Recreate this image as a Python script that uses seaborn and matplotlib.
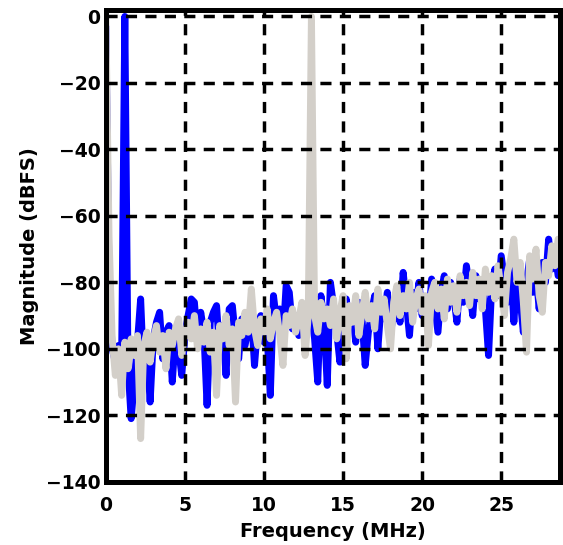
import numpy as np
import pandas as pd
import matplotlib
matplotlib.use("Agg")
import matplotlib.pyplot as plt
import seaborn as sns

# frequency grid (MHz) and the two spectra (dBFS)
freq_step = 0.2
n_bins = 144
freq = [round(i * freq_step, 1) for i in range(n_bins)]

blue_db = [
    -3, -80, -100, -104, -99, -102, 0, -105, -121, -110,
    -98, -85, -108, -100, -116, -97, -92, -89, -103, -95,
    -93, -110, -96, -100, -108, -96, -90, -85, -86, -98,
    -89, -95, -117, -92, -89, -87, -101, -93, -108, -88,
    -87, -97, -103, -91, -99, -94, -89, -105, -93, -90,
    -98, -96, -114, -84, -92, -88, -97, -81, -83, -94,
    -90, -96, -88, -92, -86, -89, -97, -110, -84, -92,
    -111, -80, -87, -95, -104, -90, -85, -93, -88, -98,
    -86, -91, -105, -95, -89, -84, -100, -87, -91, -83,
    -96, -88, -84, -92, -77, -86, -96, -83, -88, -80,
    -90, -85, -92, -79, -87, -95, -83, -78, -88, -80,
    -84, -92, -79, -86, -75, -82, -90, -78, -85, -80,
    -88, -102, -81, -76, -84, -72, -79, -86, -74, -92,
    -78, -85, -95, -80, -73, -83, -77, -88, -74, -80,
    -67, -76, -71, -78,
]

gray_db = [
    0, -66, -97, -108, -100, -114, -98, -106, -97, -102,
    -96, -127, -99, -95, -104, -97, -93, -101, -96, -106,
    -95, -99, -94, -91, -102, -95, -92, -97, -90, -100,
    -94, -98, -92, -101, -95, -114, -93, -97, -90, -99,
    -94, -116, -92, -96, -89, -95, -82, -94, -99, -91,
    -95, -88, -97, -92, -89, -96, -105, -90, -93, -88,
    -95, -91, -86, -102, -90, 0, -90, -95, -86, -91,
    -88, -93, -85, -97, -89, -84, -103, -87, -92, -84,
    -96, -89, -83, -91, -87, -94, -82, -89, -85, -93,
    -100, -86, -81, -90, -84, -88, -80, -92, -85, -82,
    -89, -84, -99, -83, -80, -88, -82, -91, -79, -86,
    -81, -89, -78, -84, -80, -87, -77, -84, -79, -88,
    -76, -83, -78, -85, -75, -82, -90, -77, -73, -67,
    -80, -74, -86, -101, -72, -79, -70, -84, -89, -74,
    -78, -69, -75, -67,
]

df = pd.DataFrame({"freq": freq, "blue": blue_db, "gray": gray_db})

sns.set_style("white")
plt.rcParams["font.family"] = ["DejaVu Sans"]
plt.rcParams["font.weight"] = "bold"
plt.rcParams["text.color"] = "black"
plt.rcParams["axes.labelcolor"] = "black"

fig = plt.figure(figsize=(5.63, 5.45), dpi=100)
ax = fig.add_axes([0.188, 0.116, 0.807, 0.866])

line_kw = dict(linewidth=5, solid_joinstyle="round", solid_capstyle="round",
               estimator=None, legend=False)
sns.lineplot(data=df, x="freq", y="blue", color="#0000ff", ax=ax, **line_kw)
sns.lineplot(data=df, x="freq", y="gray", color="#d3cfc9", ax=ax, **line_kw)

ax.set_xlim(0, 28.73)
ax.set_ylim(-140, 2)
ax.set_xticks([0, 5, 10, 15, 20, 25])
ax.set_yticks(np.arange(-140, 1, 20))

ax.grid(True, color="black", linestyle=(0, (3.2, 2.4)), linewidth=2.5)
ax.set_axisbelow(False)
for sp in ax.spines.values():
    sp.set_visible(True)
    sp.set_color("black")
    sp.set_linewidth(3.6)

ax.tick_params(axis="both", direction="in", length=5, width=2,
               labelsize=13.5, colors="black")
ax.tick_params(axis="x", pad=10)
ax.tick_params(axis="y", pad=4)
for lbl in ax.get_xticklabels() + ax.get_yticklabels():
    lbl.set_fontweight("bold")

ax.set_xlabel("Frequency (MHz)", fontsize=14, fontweight="bold",
              color="black", labelpad=5)
ax.set_ylabel("Magnitude (dBFS)", fontsize=14, fontweight="bold",
              color="black", labelpad=5)

fig.savefig("out.png", dpi=100)
